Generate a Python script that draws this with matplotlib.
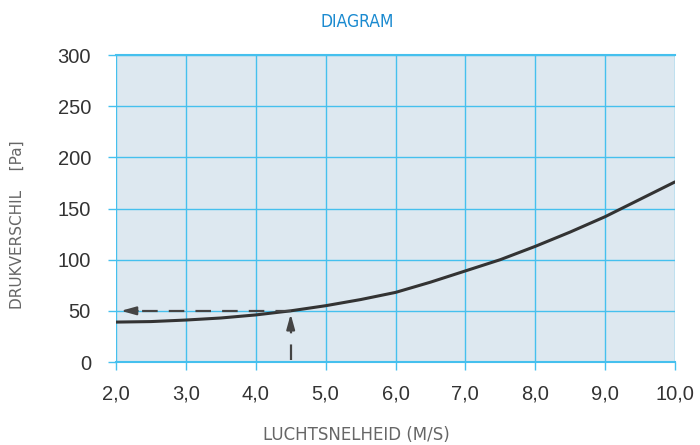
import matplotlib
matplotlib.use("Agg")
import matplotlib.pyplot as plt
import numpy as np

# Data
speed = [2.0, 2.5, 3.0, 3.5, 4.0, 4.5, 5.0, 5.5, 6.0, 6.5, 7.0, 7.5, 8.0, 8.5, 9.0, 9.5, 10.0]
pressure = [39, 39.5, 41, 43, 46, 50, 55, 61, 68, 78, 89, 100, 113, 127, 142, 159, 176]
xticks = [2.0, 3.0, 4.0, 5.0, 6.0, 7.0, 8.0, 9.0, 10.0]
xticklabels = ["2,0", "3,0", "4,0", "5,0", "6,0", "7,0", "8,0", "9,0", "10,0"]
yticks = [0, 50, 100, 150, 200, 250, 300]
op_speed = 4.5
op_pressure = 50

fig = plt.figure(figsize=(7, 4.45), dpi=100)
ax = fig.add_axes([116/700, 83/445, 559/700, 307/445])
ax.set_facecolor("#dde8f0")
grid_c = "#45c0ee"

ax.set_xlim(2.0, 10.0)
ax.set_ylim(0, 300)
ax.set_xticks(xticks)
ax.set_xticklabels(xticklabels)
ax.set_yticks(yticks)
ax.grid(True, color=grid_c, linewidth=1.0)
ax.set_axisbelow(True)
for s in ax.spines.values():
    s.set_visible(False)
ax.spines["top"].set_visible(True)
ax.spines["top"].set_color(grid_c)
ax.spines["top"].set_linewidth(1.5)
ax.spines["bottom"].set_visible(True)
ax.spines["bottom"].set_color(grid_c)
ax.spines["bottom"].set_linewidth(1.5)
ax.tick_params(axis="both", colors=grid_c, labelcolor="#333333", labelsize=14.5, length=6, width=1.0)
ax.tick_params(axis="x", pad=10)
ax.tick_params(axis="y", pad=12)
for lab in ax.get_xticklabels() + ax.get_yticklabels():
    lab.set_fontfamily(["Liberation Sans", "DejaVu Sans"])

ax.plot(speed, pressure, color="#333333", linewidth=2.2, solid_capstyle="round",
        solid_joinstyle="round", zorder=3)

# dashed arrows
ax.plot([op_speed, 2.25], [op_pressure, op_pressure], color="#444444", lw=1.6, dashes=(7, 5), zorder=4)
ax.annotate("", xy=(2.03, op_pressure), xytext=(2.35, op_pressure),
            arrowprops=dict(arrowstyle="-|>,head_length=0.9,head_width=0.25", color="#444444", lw=1.5), zorder=5)
ax.plot([op_speed, op_speed], [2, 38], color="#444444", lw=1.6, dashes=(7, 5), zorder=4)
ax.annotate("", xy=(op_speed, op_pressure - 0.5), xytext=(op_speed, 36),
            arrowprops=dict(arrowstyle="-|>,head_length=0.9,head_width=0.25", color="#444444", lw=1.5), zorder=5)

fig.text(357/700, 1 - 22/445, "DIAGRAM", color="#1a8ad0", fontsize=12.5, ha="center", va="center",
         family="DejaVu Sans", fontstretch="condensed")
fig.text(356/700, 1 - 435/445, "LUCHTSNELHEID (M/S)", color="#666666", fontsize=12, ha="center", va="center")
fig.text(17/700, 1 - 225/445, "DRUKVERSCHIL    [Pa]", color="#666666", fontsize=11, ha="center", va="center",
         rotation=90)

fig.savefig("out.png", dpi=100)
